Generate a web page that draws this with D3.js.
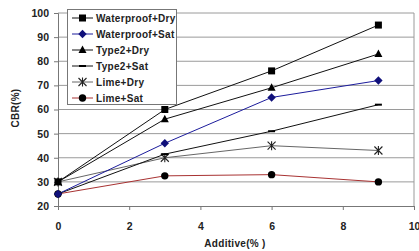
<!DOCTYPE html>
<html>
<head>
<meta charset="utf-8">
<script src="https://cdn.jsdelivr.net/npm/d3@7"></script>
<style>
  body { margin: 0; background: #fff; }
  text { font-family: "Liberation Sans", Arial, sans-serif; }
</style>
</head>
<body>
<div id="vis"></div>
<script>
// data
var additive = [0, 3, 6, 9];
var seriesNames = ["Waterproof+Dry", "Waterproof+Sat", "Type2+Dry", "Type2+Sat", "Lime+Dry", "Lime+Sat"];
var waterproofDry = [30, 60, 76, 95];
var waterproofSat = [25, 46, 65, 72];
var type2Dry = [30, 56, 69, 83];
var type2Sat = [25, 41.5, 51, 62];
var limeDry = [30, 40, 45, 43];
var limeSat = [25, 32.5, 33, 30];
var xTicks = [0, 2, 4, 6, 8, 10];
var yTicks = [20, 30, 40, 50, 60, 70, 80, 90, 100];

var series = [
  {name: seriesNames[0], values: waterproofDry, line: "#111", marker: "square"},
  {name: seriesNames[1], values: waterproofSat, line: "#1c1c9c", marker: "diamond", fill: "#10107a"},
  {name: seriesNames[2], values: type2Dry, line: "#111", marker: "triangle"},
  {name: seriesNames[3], values: type2Sat, line: "#111", marker: "dash"},
  {name: seriesNames[4], values: limeDry, line: "#666", marker: "star"},
  {name: seriesNames[5], values: limeSat, line: "#a83232", marker: "circle"}
];

var width = 419, height = 251;
var margin = {left: 58, right: 5, top: 13, bottom: 45};

var svg = d3.select("#vis").append("svg")
  .attr("width", width)
  .attr("height", height);

var x = d3.scaleLinear().domain([0, 10]).range([margin.left, 414]);
var y = d3.scaleLinear().domain([20, 100]).range([206, margin.top]);

// grid
svg.append("g").selectAll("line")
  .data(yTicks.slice(1))
  .enter().append("line")
  .attr("x1", x(0)).attr("x2", x(10))
  .attr("y1", function(d) { return y(d); })
  .attr("y2", function(d) { return y(d); })
  .style("stroke", "#9a9a9a")
  .style("stroke-width", 1);

// plot border (right side)
svg.append("line")
  .attr("x1", x(10)).attr("x2", x(10))
  .attr("y1", y(100)).attr("y2", y(20))
  .style("stroke", "#9a9a9a");

// axes
var xAxis = svg.append("g")
  .attr("transform", "translate(0," + y(20) + ")")
  .call(d3.axisBottom(x).tickValues(xTicks).tickSize(4).tickPadding(13).tickFormat(d3.format("d")));
var yAxis = svg.append("g")
  .attr("transform", "translate(" + x(0) + ",0)")
  .call(d3.axisLeft(y).tickValues(yTicks).tickSize(4).tickPadding(5));

[xAxis, yAxis].forEach(function(a) {
  a.select(".domain").style("stroke", "#777");
  a.selectAll(".tick line").style("stroke", "#777");
  a.selectAll("text")
    .style("font-size", "10.5px")
    .style("font-weight", "bold")
    .style("fill", "#222");
});

// axis titles
svg.append("text")
  .attr("x", 235).attr("y", 247)
  .attr("text-anchor", "middle")
  .style("font-size", "10px").style("font-weight", "bold").style("fill", "#222")
  .style("letter-spacing", "0.3px")
  .text("Additive(% )");
svg.append("text")
  .attr("transform", "translate(19,108) rotate(-90)")
  .attr("text-anchor", "middle")
  .style("font-size", "10px").style("font-weight", "bold").style("fill", "#222")
  .style("letter-spacing", "0.3px")
  .text("CBR(%)");

function drawMarker(g, type, cx, cy, fill) {
  var c = fill || "#000";
  if (type === "square") {
    g.append("rect").attr("x", cx - 3.5).attr("y", cy - 3.5).attr("width", 7).attr("height", 7).style("fill", c);
  } else if (type === "diamond") {
    var d = 4.2;
    g.append("path").attr("d", "M" + cx + "," + (cy - d) + "L" + (cx + d) + "," + cy + "L" + cx + "," + (cy + d) + "L" + (cx - d) + "," + cy + "Z").style("fill", c);
  } else if (type === "triangle") {
    g.append("path").attr("d", "M" + cx + "," + (cy - 4.5) + "L" + (cx + 4) + "," + (cy + 3) + "L" + (cx - 4) + "," + (cy + 3) + "Z").style("fill", c);
  } else if (type === "dash") {
    g.append("line").attr("x1", cx - 3.5).attr("x2", cx + 3.5).attr("y1", cy).attr("y2", cy).style("stroke", "#000").style("stroke-width", 2);
  } else if (type === "star") {
    var s = 4;
    g.append("path")
      .attr("d", "M" + (cx - s) + "," + (cy - s) + "L" + (cx + s) + "," + (cy + s) +
                 "M" + (cx - s) + "," + (cy + s) + "L" + (cx + s) + "," + (cy - s) +
                 "M" + cx + "," + (cy - s - 0.5) + "L" + cx + "," + (cy + s + 0.5))
      .style("stroke", "#222").style("stroke-width", 1.1).style("fill", "none");
  } else if (type === "circle") {
    g.append("circle").attr("cx", cx).attr("cy", cy).attr("r", 3.7).style("fill", c);
  }
}

var line = d3.line()
  .x(function(d, i) { return x(additive[i]); })
  .y(function(d) { return y(d); });

// draw series, bottom first
var plot = svg.append("g");
series.slice().reverse().forEach(function(s) {
  plot.append("path")
    .datum(s.values)
    .attr("d", line)
    .style("fill", "none")
    .style("stroke", s.line)
    .style("stroke-width", 1);
});
series.slice().reverse().forEach(function(s) {
  var g = plot.append("g");
  s.values.forEach(function(v, i) {
    drawMarker(g, s.marker, x(additive[i]), y(v), s.fill);
  });
});

// legend
var lg = svg.append("g");
lg.append("rect")
  .attr("x", 67.5).attr("y", 9.5).attr("width", 109).attr("height", 95)
  .style("fill", "#fff").style("stroke", "#777");
series.forEach(function(s, i) {
  var ly = 18 + i * 16;
  lg.append("line")
    .attr("x1", 72).attr("x2", 93).attr("y1", ly).attr("y2", ly)
    .style("stroke", s.line).style("stroke-width", 1);
  drawMarker(lg, s.marker, 82.5, ly, s.fill);
  lg.append("text")
    .attr("x", 96).attr("y", ly + 3.5)
    .style("font-size", "10px").style("font-weight", "bold").style("fill", "#222")
    .style("letter-spacing", "0.3px")
    .text(s.name);
});
</script>
</body>
</html>
